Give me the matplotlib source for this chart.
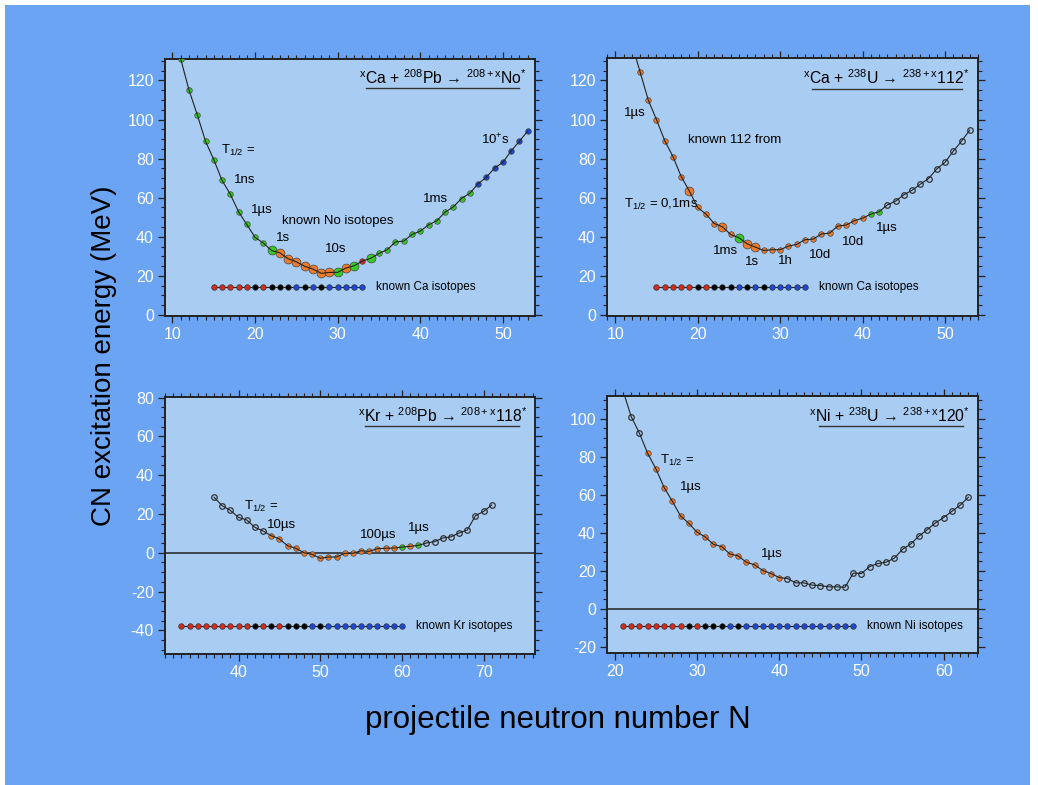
import matplotlib
matplotlib.use("Agg")
import matplotlib.pyplot as plt
from matplotlib.patches import Rectangle
from matplotlib.ticker import MultipleLocator

plt.rcParams['font.family'] = ['Liberation Sans', 'DejaVu Sans']
plt.rcParams['mathtext.fontset'] = 'custom'
plt.rcParams['mathtext.rm'] = 'Liberation Sans'
plt.rcParams['mathtext.it'] = 'Liberation Sans:italic'
plt.rcParams['mathtext.bf'] = 'Liberation Sans:bold'
plt.rcParams['axes.unicode_minus'] = False

# --- data ---
# point kinds: lower case = small marker, upper case = big marker
# g green, o orange, r red, b blue, w open circle
ca_pb_n = list(range(11, 54))
ca_pb_e = [131, 115.1, 102.5, 88.9, 79.5, 68.9, 61.8, 52.8, 46.3, 39.7, 36.8,
           33.0, 31.8, 28.8, 27.2, 24.9, 23.5, 21.3, 21.8, 21.8, 24.0, 25.2,
           27.6, 29.0, 31.5, 33.4, 37.4, 37.8, 41.2, 42.9, 46.1, 48.2, 52.6,
           55.3, 59.6, 62.3, 67.1, 70.5, 75.2, 78.1, 83.9, 88.9, 94.1]
ca_pb_kind = "gggggggggggGOOOOOOOGOGrGggggggggggggbbbbbbb"

ca_u_n = list(range(12, 54))
ca_u_e = [139, 124.5, 110.0, 99.9, 89.2, 81.0, 70.8, 63.3, 55.0, 51.6, 46.8,
          45.1, 41.2, 39.5, 36.4, 34.7, 33.0, 33.4, 33.4, 35.2, 36.1, 38.5,
          38.8, 41.4, 41.9, 45.5, 46.0, 48.2, 49.5, 51.6, 52.8, 56.3, 58.2,
          61.5, 63.8, 66.9, 69.8, 74.7, 78.1, 83.8, 88.9, 94.6]
ca_u_kind = "oooooooOoooOoGOOoooooooooooooggwwwwwwwwwww"

kr_pb_n = list(range(37, 72))
kr_pb_e = [28.6, 24.2, 21.8, 18.2, 16.9, 13.1, 11.2, 8.8, 7.1, 3.6, 2.3, 0.0,
           -0.8, -2.9, -2.2, -2.2, -0.3, -0.3, 1.0, 0.7, 2.1, 2.3, 2.4, 2.9,
           3.3, 3.8, 5.0, 5.7, 7.6, 8.2, 10.2, 11.7, 19.1, 21.3, 24.6]
kr_pb_kind = "wwwwwwwoooooooooooooooogogwwwwwwwww"

ni_u_n = list(range(21, 64))
ni_u_e = [115, 101.2, 92.5, 81.9, 73.8, 63.9, 56.7, 48.9, 45.1, 40.4, 37.9,
          34.0, 32.8, 28.9, 27.9, 24.6, 23.2, 20.2, 18.6, 16.5, 16.0, 13.7,
          13.7, 12.5, 12.3, 11.6, 11.6, 11.4, 18.8, 18.6, 22.3, 23.9, 24.6,
          26.7, 31.4, 34.2, 38.4, 41.7, 45.3, 48.1, 51.4, 54.6, 58.8]
ni_u_kind = "wwwooooooooooooooooowwwwwwwwwwwwwwwwwwwwwww"

# known projectile isotopes: r proton rich, k stable, b neutron rich
ca_iso_n = list(range(15, 34))
ca_iso_kind = "rrrrrkrkkkbkbkbbbbb"
kr_iso_n = list(range(33, 61))
kr_iso_kind = "rrrrrrrrrkrkrkkkbkbbbbbbbbbb"
ni_iso_n = list(range(21, 50))
ni_iso_kind = "rrrrrrrrkrkkkbkbbbbbbbbbbbbbb"

panel_titles = [r"$^{\mathrm{x}}$Ca + $^{208}$Pb → $^{208+\mathrm{x}}$No$^{*}$",
                r"$^{\mathrm{x}}$Ca + $^{238}$U → $^{238+\mathrm{x}}$112$^{*}$",
                r"$^{\mathrm{x}}$Kr + $^{208}$Pb → $^{208+\mathrm{x}}$118$^{*}$",
                r"$^{\mathrm{x}}$Ni + $^{238}$U → $^{238+\mathrm{x}}$120$^{*}$"]

BG = '#6aa4f2'
AXBG = '#a9cdf2'
COL = {'g': '#35cc22', 'o': '#ef7a2a', 'r': '#d42b1c', 'b': '#1d47d4',
       'k': '#000000', 'w': AXBG}

fig = plt.figure(figsize=(10.38, 7.85), dpi=100)
fig.patch.set_facecolor('white')
fig.patches.append(Rectangle((0.005, 0.0), 0.987, 0.9936, transform=fig.transFigure,
                             facecolor=BG, edgecolor='none', zorder=-10))


def draw_curve(ax, ns, es, kinds):
    ax.plot(ns, es, color='#222222', lw=0.8, zorder=4)
    for n, e, k in zip(ns, es, kinds):
        big = k.isupper()
        c = COL[k.lower()]
        ax.plot(n, e, 'o', ms=6.4 if big else 4.0, mfc=c,
                mec='#333333' if k == 'w' else '#444444', mew=0.9 if k == 'w' else 0.5,
                zorder=3)


def draw_iso(ax, ns, e, kinds, label):
    ax.plot(ns, [e] * len(ns), color='#222222', lw=0.8, zorder=3)
    for n, k in zip(ns, kinds):
        ax.plot(n, e, 'o', ms=4.0, mfc=COL[k], mec='#333333', mew=0.5, zorder=3)
    ax.text(ns[-1] + 1.7, e, label, fontsize=8.5, va='center', ha='left',
            family=['Liberation Sans Narrow', 'Liberation Sans', 'DejaVu Sans'])


def style(ax, xlim, ylim, title, tx, ty, ux0, ux1, uy):
    ax.set_facecolor(AXBG)
    ax.set_xlim(*xlim)
    ax.set_ylim(*ylim)
    ax.xaxis.set_major_locator(MultipleLocator(10))
    ax.xaxis.set_minor_locator(MultipleLocator(1))
    ax.yaxis.set_major_locator(MultipleLocator(20))
    ax.yaxis.set_minor_locator(MultipleLocator(5))
    ax.tick_params(which='both', direction='out', top=True, right=True,
                   color='#222222', labelcolor='white', labelsize=11.5)
    ax.tick_params(which='major', length=5, width=0.9, pad=3)
    ax.tick_params(which='minor', length=3, width=0.8)
    for s in ax.spines.values():
        s.set_color('#222222')
        s.set_linewidth(1.4)
    ax.text(tx, ty, title, transform=ax.transAxes, fontsize=11.3,
            ha='center', va='center')
    ax.plot([ux0, ux1], [uy, uy], transform=ax.transAxes, color='#333333',
            lw=1.0, clip_on=False)


def note(ax, x, y, s, ha='center'):
    ax.text(x, y, s, fontsize=9.5, ha=ha, va='center')


# top left: Ca + Pb
ax1 = fig.add_axes([0.159, 0.5975, 0.3565, 0.3274])
style(ax1, (9.1, 53.9), (-0.5, 131), panel_titles[0], 0.750, 0.926, 0.542, 0.957, 0.887)
draw_curve(ax1, ca_pb_n, ca_pb_e, ca_pb_kind)
draw_iso(ax1, ca_iso_n, 14.3, ca_iso_kind, "known Ca isotopes")
note(ax1, 18.0, 84, r"T$_{1/2}$ =")
note(ax1, 18.8, 68.9, "1ns")
note(ax1, 20.8, 53.8, "1µs")
note(ax1, 23.2, 48.2, "known No isotopes", ha='left')
note(ax1, 23.4, 39.5, "1s")
note(ax1, 29.8, 34.0, "10s")
note(ax1, 41.9, 59.2, "1ms")
note(ax1, 49.1, 89.4, "10$^{+}$s")

# top right: Ca + U
ax2 = fig.add_axes([0.5848, 0.5975, 0.3574, 0.3287])
style(ax2, (9.0, 54.0), (-0.5, 131.5), panel_titles[1], 0.753, 0.922, 0.553, 0.957, 0.881)
draw_curve(ax2, ca_u_n, ca_u_e, ca_u_kind)
draw_iso(ax2, ca_iso_n, 14.3, ca_iso_kind, "known Ca isotopes")
note(ax2, 12.4, 103.2, "1µs")
note(ax2, 18.8, 89.5, "known 112 from", ha='left')
note(ax2, 11.1, 56.7, r"T$_{1/2}$ = 0,1ms", ha='left')
note(ax2, 23.4, 32.5, "1ms")
note(ax2, 26.6, 26.9, "1s")
note(ax2, 30.6, 27.7, "1h")
note(ax2, 34.8, 30.8, "10d")
note(ax2, 38.9, 37.1, "10d")
note(ax2, 42.9, 44.3, "1µs")

# bottom left: Kr + Pb
ax3 = fig.add_axes([0.159, 0.1669, 0.3565, 0.3274])
style(ax3, (31.0, 76.3), (-52.2, 80.3), panel_titles[2], 0.752, 0.926, 0.540, 0.957, 0.887)
ax3.axhline(0, color='#222222', lw=1.1, zorder=2)
draw_curve(ax3, kr_pb_n, kr_pb_e, kr_pb_kind)
draw_iso(ax3, kr_iso_n, -37.8, kr_iso_kind, "known Kr isotopes")
note(ax3, 42.7, 23.7, r"T$_{1/2}$ =")
note(ax3, 45.3, 14.3, "10µs")
note(ax3, 57.1, 9.1, "100µs")
note(ax3, 62.1, 12.6, "1µs")

# bottom right: Ni + U
ax4 = fig.add_axes([0.5848, 0.1682, 0.3574, 0.3274])
style(ax4, (19.06, 64.17), (-23.2, 112.1), panel_titles[3], 0.762, 0.922, 0.571, 0.960, 0.883)
ax4.axhline(0, color='#222222', lw=1.1, zorder=2)
draw_curve(ax4, ni_u_n, ni_u_e, ni_u_kind)
draw_iso(ax4, ni_iso_n, -9.0, ni_iso_kind, "known Ni isotopes")
note(ax4, 27.6, 78.4, r"T$_{1/2}$ =")
note(ax4, 29.2, 64.0, "1µs")
note(ax4, 39.1, 28.9, "1µs")

fig.text(0.100, 0.547, "CN excitation energy (MeV)", rotation=90, fontsize=20,
         ha='center', va='center')
fig.text(0.537, 0.083, "projectile neutron number N", fontsize=22.5,
         ha='center', va='center')

fig.savefig("out.png", dpi=100, facecolor=fig.get_facecolor())
